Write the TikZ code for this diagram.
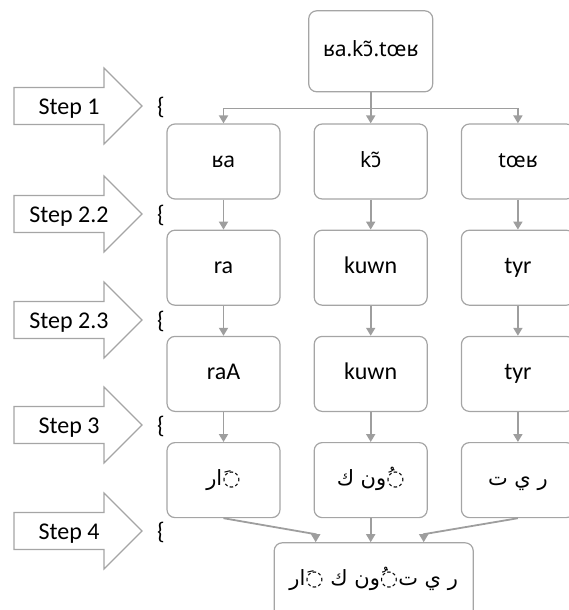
\documentclass[tikz,border=0pt]{standalone}
\usepackage{fontspec}
\setmainfont{Carlito}
\newfontfamily\ipafont{Noto Sans}
\newfontfamily\arabicfont[Script=Arabic]{DejaVu Sans}
\TeXXeTstate=1
\usetikzlibrary{arrows.meta,positioning}
\definecolor{boxgray}{RGB}{165,165,165}
\definecolor{linkgray}{RGB}{158,158,158}
\tikzstyle{wbox} = [rectangle, draw=boxgray, line width=1.2pt, rounded corners=8pt,
    minimum width=113pt, minimum height=75pt, inner sep=0pt, text height=16pt, text depth=5pt,
    font=\fontsize{24}{29}\selectfont]
\tikzstyle{ipa} = [font=\ipafont\fontsize{21}{26}\selectfont]
\tikzstyle{arab} = [font=\arabicfont\fontsize{21}{26}\selectfont]
\tikzstyle{stepbox} = [-, draw=boxgray, line width=1.2pt, fill=white]
\tikzstyle{steptext} = [anchor=base, font=\fontsize{24}{29}\selectfont]
\tikzstyle{link} = [->, draw=linkgray, line width=1.8pt]

\begin{document}
\begin{tikzpicture}[x=1pt,y=-1pt,>={Triangle[width=9pt,length=8pt]},
                    every edge/.append style={link},
                    node distance=30pt and 33pt]
  \useasboundingbox (0,0) rectangle (568,610);

  % step arrows on the left
  \foreach \lab/\y [count=\i] in {Step 1/106,Step 2.2/214,Step 2.3/320,Step 3/425,Step 4/531} {
    \draw[stepbox] (14,\y-18.5) -- (104,\y-18.5) -- (104,\y-38) -- (142,\y)
      -- (104,\y+38) -- (104,\y+18.5) -- (14,\y+18.5) -- cycle;
    \node[steptext] (step\i) at (69,\y+8) {\lab};
    \node[steptext] (br\i) at (161,\y+8) {\{};
  }

  \node[wbox,ipa]                  (L1) at (223.5,161.5) {ʁa};
  \node[wbox,ipa,right=of L1]      (M1) {kɔ̃};
  \node[wbox,ipa,right=of M1]      (R1) {tœʁ};
  \node[wbox,ipa,above=31pt of M1,minimum width=124pt,minimum height=81pt] (T) {ʁa.kɔ̃.tœʁ};

  \node[wbox,below=of L1] (L2) {ra};
  \node[wbox,below=of M1] (M2) {kuwn};
  \node[wbox,below=of R1] (R2) {tyr};

  \node[wbox,below=of L2] (L3) {raA};
  \node[wbox,below=of M2] (M3) {kuwn};
  \node[wbox,below=of R2] (R3) {tyr};

  \node[wbox,arab,below=of L3] (L4) {\beginR ◌َار\endR};
  \node[wbox,arab,below=of M3] (M4) {\beginR ◌ُون ك\endR};
  \node[wbox,arab,below=of R3] (R4) {\beginR ر ي ت\endR};

  \node[wbox,arab,below=24pt of M4,xshift=3pt,minimum width=199pt]
       (F) {\beginR ر ي ت◌ُون ك ◌َار\endR};

  % step 1 split
  \draw[link] (T.south) -- ++(0,16) -| (L1.north);
  \draw[link] (T.south) -- ++(0,16) -| (R1.north);
  \path (T.south) edge (M1.north)
  (L1) edge (L2)
  (M1) edge (M2)
  (R1) edge (R2)
  (L2) edge (L3)
  (M2) edge (M3)
  (R2) edge (R3)
  (L3) edge (L4)
  (M3) edge (M4)
  (R3) edge (R4);

  % step 4 join
  \draw[link] (L4.south) -- ([xshift=-58pt,yshift=8pt]F.north) -- ([xshift=-58pt]F.north);
  \draw[link] (M4.south) -- (M4.south |- F.north);
  \draw[link] (R4.south) -- ([xshift=50pt,yshift=8pt]F.north) -- ([xshift=50pt]F.north);
\end{tikzpicture}
\end{document}
